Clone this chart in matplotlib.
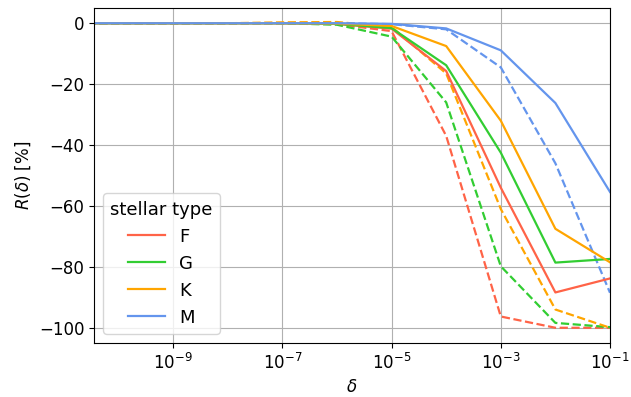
import numpy as np
import matplotlib
matplotlib.use("Agg")
import matplotlib.pyplot as plt
import matplotlib.ticker as mticker

# delta grid (one point per decade)
deltas = [1e-11, 1e-10, 1e-9, 1e-8, 1e-7, 1e-6, 1e-5, 1e-4, 1e-3, 1e-2, 1e-1]

types = ["F", "G", "K", "M"]
colors = ["tomato", "limegreen", "orange", "cornflowerblue"]

# solid curves, R(delta) in %
F_solid = [0, 0, 0, 0, 0, -0.2, -1.8, -15.7, -54.0, -88.4, -83.8]
G_solid = [0, 0, 0, 0, 0, -0.2, -1.6, -13.8, -42.5, -78.6, -77.4]
K_solid = [0, 0, 0, 0, 0, -0.1, -0.9, -7.5, -32.0, -67.5, -78.5]
M_solid = [0, 0, 0, 0, 0, 0, -0.2, -1.7, -8.9, -26.2, -55.4]

# dashed curves
F_dash = [0, 0, 0, 0, 0, -0.3, -2.6, -37.0, -96.3, -100.0, -100.0]
G_dash = [0, 0, 0, 0, 0, -0.5, -4.4, -26.0, -79.8, -98.4, -99.8]
K_dash = [0, 0, 0, 0, 0.3, 0.4, -1.2, -16.5, -61.0, -94.0, -100.0]
M_dash = [0, 0, 0, 0, 0, 0, -0.3, -2.0, -14.5, -46.0, -88.5]

solid = [F_solid, G_solid, K_solid, M_solid]
dashed = [F_dash, G_dash, K_dash, M_dash]

plt.rcParams["font.size"] = 13
plt.rcParams["xtick.labelsize"] = 12
plt.rcParams["ytick.labelsize"] = 12

fig = plt.figure(figsize=(6.31, 3.97), dpi=100)
ax = fig.add_axes([94 / 631, 1 - 343 / 397, (610 - 94) / 631, (343 - 8) / 397])

for name, c, ys, yd in zip(types, colors, solid, dashed):
    ax.plot(deltas, yd, color=c, ls="--", lw=1.6)
for name, c, ys, yd in zip(types, colors, solid, dashed):
    ax.plot(deltas, ys, color=c, lw=1.6, label=name)

ax.set_xscale("log")
ax.set_xlim(10 ** -10.45, 1e-1)
ax.set_ylim(-105, 5)
ax.xaxis.set_major_locator(mticker.FixedLocator([1e-9, 1e-7, 1e-5, 1e-3, 1e-1]))
ax.xaxis.set_minor_locator(mticker.NullLocator())
ax.set_yticks([0, -20, -40, -60, -80, -100])
ax.grid(True, color="#b0b0b0", lw=0.8)
ax.set_axisbelow(True)
ax.set_xlabel(r"$\delta$", fontsize=12)
ax.set_ylabel(r"$R(\delta)$ [%]", fontsize=12)
ax.legend(title="stellar type", loc="lower left")

fig.savefig("out.png", dpi=100)
